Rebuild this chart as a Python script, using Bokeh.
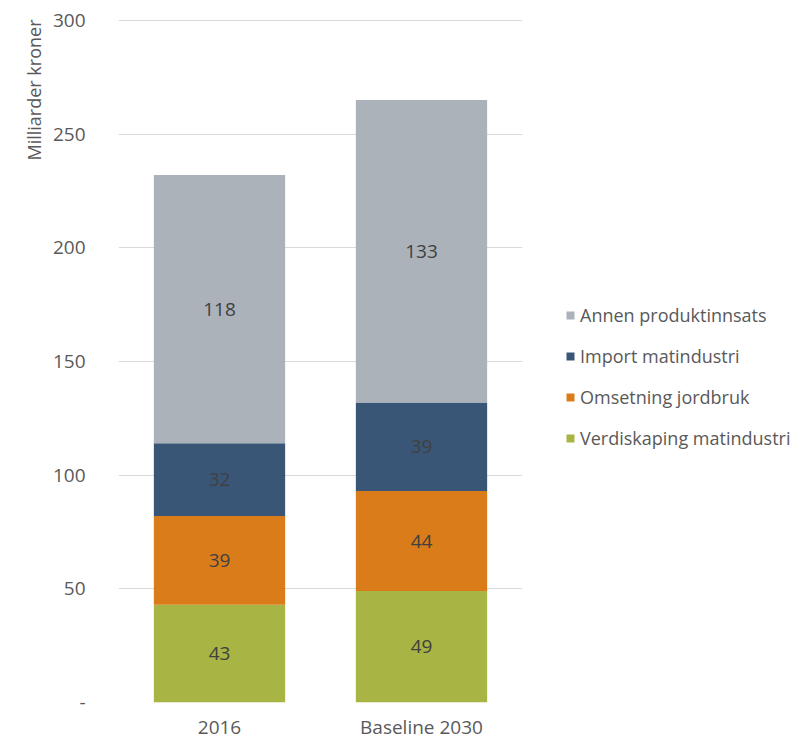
from bokeh.plotting import figure
from bokeh.models import ColumnDataSource, FactorRange, Range1d, Legend, LegendItem, FixedTicker, Title
from bokeh.embed import file_html
from bokeh.resources import INLINE
from bokeh.core.properties import value

categories = ["2016", "Baseline 2030"]
series_names = ["Verdiskaping matindustri", "Omsetning jordbruk", "Import matindustri", "Annen produktinnsats"]
verdiskaping = [43, 49]
omsetning = [39, 44]
importm = [32, 39]
annen = [118, 133]
colors = ["#a8b443", "#d97c19", "#3a5677", "#abb2ba"]
y_ticks = [0, 50, 100, 150, 200, 250, 300]

FONT = "Open Sans"

p = figure(x_range=FactorRange(*categories, range_padding=0), y_range=Range1d(0, 300.44),
           frame_width=404, frame_height=683, output_backend="svg", toolbar_location=None,
           min_border_left=118, min_border_top=19, min_border_bottom=36, min_border_right=0)

keys = ["v", "o", "i", "a"]
data = dict(cat=categories, v=verdiskaping, o=omsetning, i=importm, a=annen)
src = ColumnDataSource(data)
renderers = p.vbar_stack(keys, x="cat", width=0.65, source=src, color=colors, line_color=None)

series = [verdiskaping, omsetning, importm, annen]
lx, ly, lt = [], [], []
for ci, c in enumerate(categories):
    base = 0
    for s in series:
        lx.append(c)
        ly.append(base + s[ci] / 2)
        lt.append(str(s[ci]))
        base += s[ci]
lsrc = ColumnDataSource(dict(x=lx, y=ly, t=lt))
p.text(x="x", y="y", text="t", source=lsrc, text_align="center", text_baseline="middle",
       text_font=value(FONT), text_font_size="19px", text_color="#404040")

items = [LegendItem(label=series_names[k], renderers=[renderers[k]]) for k in [3, 2, 1, 0]]
legend = Legend(items=items, location=(43, 252), orientation="vertical",
                glyph_width=10, glyph_height=10, label_height=22, spacing=17,
                label_text_font=FONT, label_text_font_size="18px", label_text_color="#595959",
                border_line_color=None, background_fill_alpha=0, padding=0, margin=0,
                label_standoff=5)
p.add_layout(legend, "right")

ytitle = Title(text="Milliarder kroner", align="right", text_font=FONT,
               text_font_size="18px", text_font_style="normal", text_color="#595959",
               standoff=8)
p.add_layout(ytitle, "left")

p.yaxis.ticker = FixedTicker(ticks=y_ticks)
p.yaxis.major_label_overrides = {0: "-"}

for ax in [p.xaxis, p.yaxis]:
    ax.axis_line_color = None
    ax.major_tick_line_color = None
    ax.minor_tick_line_color = None
    ax.major_label_text_font = FONT
    ax.major_label_text_color = "#595959"
p.yaxis.major_label_text_font_size = "19px"
p.xaxis.major_label_text_font_size = "19px"
p.yaxis.major_label_standoff = 27
p.xaxis.major_label_standoff = 5

p.xgrid.grid_line_color = None
p.ygrid.grid_line_color = "#d9d9d9"
p.ygrid.grid_line_width = 1.2
p.outline_line_color = None

open("out.html", "w").write(file_html(p, INLINE))
